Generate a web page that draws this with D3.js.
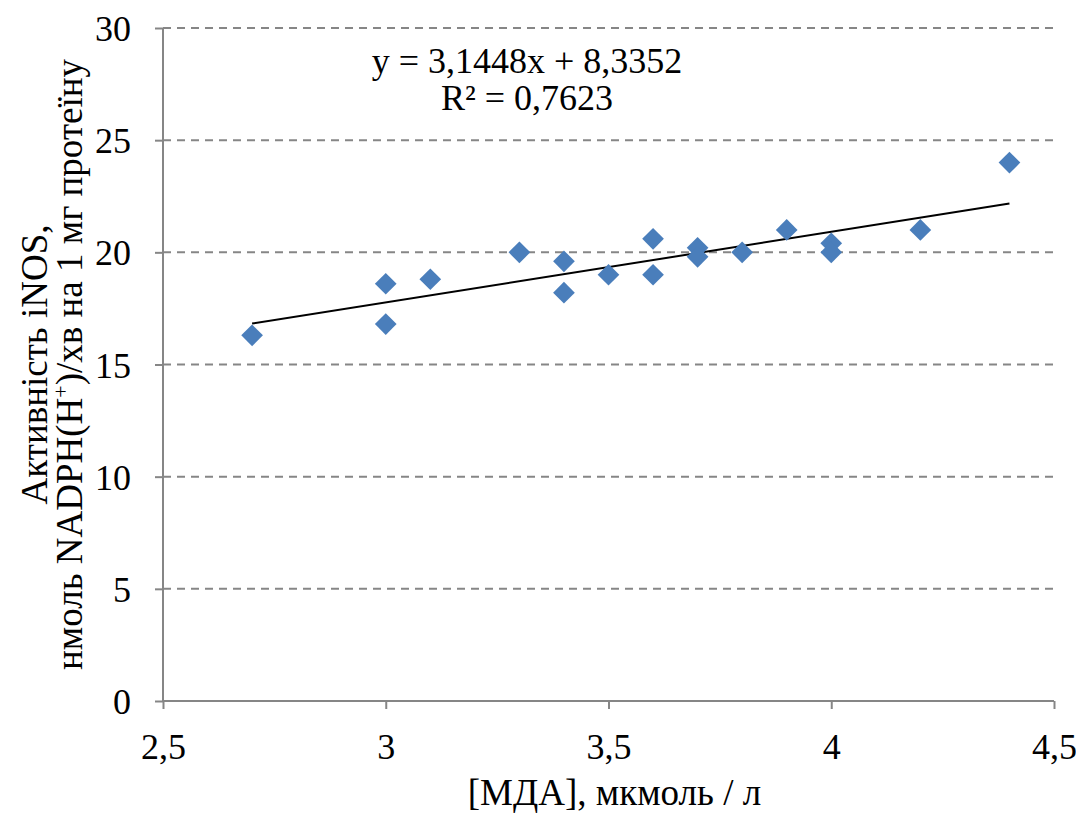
<!DOCTYPE html>
<html>
<head>
<meta charset="utf-8">
<script src="https://cdn.jsdelivr.net/npm/d3@7"></script>
<style>
  body { margin: 0; background: #fff; }
</style>
</head>
<body>
<svg id="chart" width="1076" height="814"></svg>
<script>
// data
var mdaValues  = [2.7, 3.0, 3.0, 3.1, 3.3, 3.4, 3.4, 3.5, 3.6, 3.6, 3.7, 3.7, 3.8, 3.9, 4.0, 4.0, 4.2, 4.4];
var inosValues = [16.3, 18.6, 16.8, 18.8, 20.0, 19.6, 18.2, 19.0, 20.6, 19.0, 20.2, 19.8, 20.0, 21.0, 20.4, 20.0, 21.0, 24.0];
var xTicks = [2.5, 3, 3.5, 4, 4.5];
var yTicks = [0, 5, 10, 15, 20, 25, 30];
var slope = 3.1448, intercept = 8.3352;

var margin = {top: 28, right: 22, bottom: 113, left: 163},
    width = 1076 - margin.left - margin.right,
    height = 814 - margin.top - margin.bottom;

var svg = d3.select("#chart")
    .attr("font-family", "Liberation Serif")
  .append("g")
    .attr("transform", "translate(" + margin.left + "," + margin.top + ")");

var x = d3.scaleLinear().domain([2.5, 4.5]).range([0, width]);
var y = d3.scaleLinear().domain([0, 30]).range([height, 0]);

var fmt = function(d) { return String(d).replace(".", ","); };

// dashed gridlines
svg.selectAll(".grid")
    .data(yTicks.filter(function(d) { return d > 0; }))
  .enter().append("line")
    .attr("x1", 0).attr("x2", width)
    .attr("y1", function(d) { return y(d); })
    .attr("y2", function(d) { return y(d); })
    .style("stroke", "#868686")
    .style("stroke-width", 2)
    .style("stroke-dasharray", "8,6");

// axes
var yAxis = d3.axisLeft(y).tickValues(yTicks).tickSize(8).tickPadding(24).tickFormat(fmt);
var xAxis = d3.axisBottom(x).tickValues(xTicks).tickSize(8).tickPadding(24).tickFormat(fmt);

var gy = svg.append("g").call(yAxis);
var gx = svg.append("g").attr("transform", "translate(0," + height + ")").call(xAxis);

[gx, gy].forEach(function(g) {
  g.attr("font-family", "Liberation Serif").attr("font-size", 36);
  g.select(".domain").style("stroke", "#868686").style("stroke-width", 2);
  g.selectAll(".tick line").style("stroke", "#868686").style("stroke-width", 2);
  g.selectAll(".tick text").attr("fill", "#000");
});
gy.selectAll(".tick text").attr("dy", "0.35em");
gx.select(".domain").attr("d", "M0,0H" + width);
gy.select(".domain").attr("d", "M0," + height + "V0");

// linear trend line
var xs = d3.extent(mdaValues);
svg.append("line")
    .attr("x1", x(xs[0])).attr("y1", y(slope * xs[0] + intercept))
    .attr("x2", x(xs[1])).attr("y2", y(slope * xs[1] + intercept))
    .style("stroke", "#000")
    .style("stroke-width", 2);

// diamond markers
var diamond = d3.symbol().type(d3.symbolDiamond2).size(300);
svg.selectAll(".pt")
    .data(mdaValues)
  .enter().append("path")
    .attr("d", diamond)
    .attr("transform", function(d, i) { return "translate(" + x(d) + "," + y(inosValues[i]) + ")"; })
    .style("fill", "#4a7ebb");

// equation
var eq = svg.append("text")
    .attr("text-anchor", "middle")
    .attr("font-family", "Liberation Serif")
    .attr("font-size", 36);
eq.append("tspan").attr("x", 364).attr("y", 45).text("y = 3,1448x + 8,3352");
eq.append("tspan").attr("x", 364).attr("y", 82).text("R² = 0,7623");

// x title
svg.append("text")
    .attr("x", width / 2 + 6)
    .attr("y", height + 104)
    .attr("text-anchor", "middle")
    .attr("font-family", "Liberation Serif")
    .attr("font-size", 37)
    .text("[МДА], мкмоль / л");

// y title, two lines
var yt = svg.append("text")
    .attr("transform", "translate(" + (-116) + "," + (height / 2) + ") rotate(-90)")
    .attr("text-anchor", "middle")
    .attr("font-family", "Liberation Serif")
    .attr("font-size", 37);
yt.append("tspan").attr("x", 0).attr("y", 0).text("Активність  iNOS,");
var l2 = yt.append("tspan").attr("x", 0).attr("y", 35);
l2.append("tspan").text("нмоль NADPH(H");
l2.append("tspan").attr("dy", -14).attr("font-size", 22).text("+");
l2.append("tspan").attr("dy", 14).text(")/хв на 1 мг протеїну");
</script>
</body>
</html>
